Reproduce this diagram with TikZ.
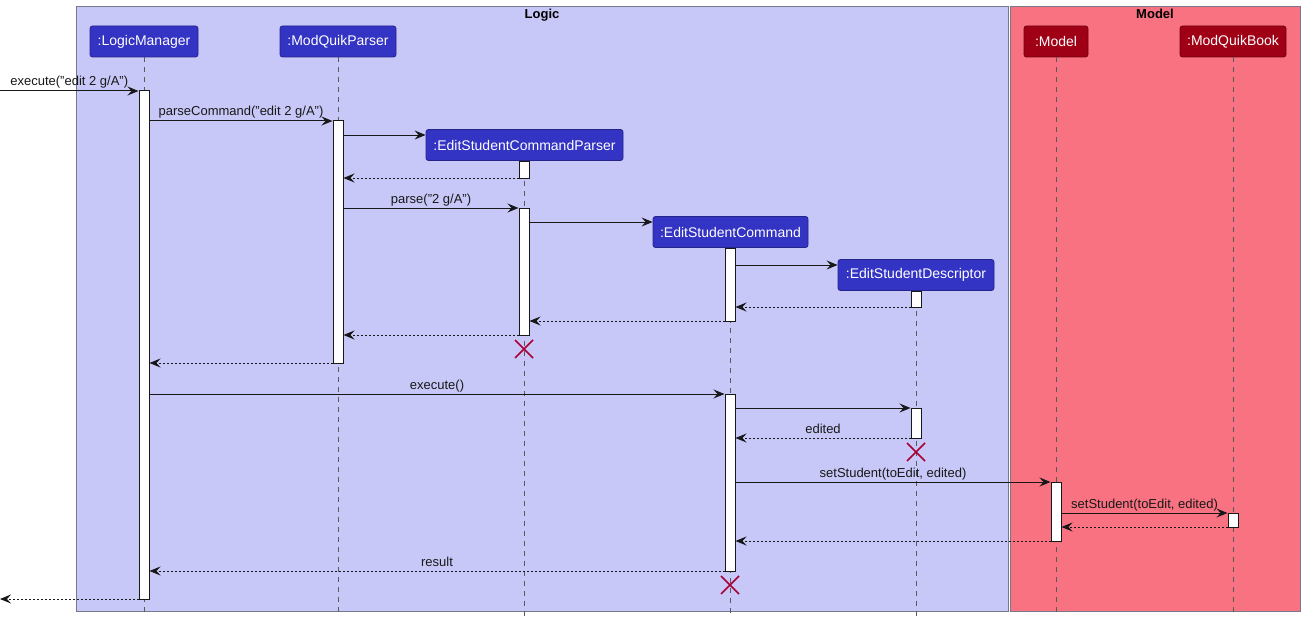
\documentclass[tikz,border=0pt]{standalone}
\usepackage{fontspec}
\setmainfont{Liberation Sans}
\usetikzlibrary{arrows.meta,calc}
\definecolor{logicbg}{RGB}{200,200,248}
\definecolor{modelbg}{RGB}{249,114,130}
\definecolor{logicpart}{RGB}{51,51,196}
\definecolor{modelpart}{RGB}{160,0,22}
\definecolor{boxline}{RGB}{120,120,140}
\definecolor{ink}{RGB}{24,24,24}
\definecolor{destroy}{RGB}{168,0,54}
\tikzset{
  grp/.style={draw=boxline, line width=1pt, inner sep=0},
  part/.style={rectangle, rounded corners=2.5pt, draw=#1!70!black, fill=#1, text=white, font=\fontsize{14}{16}\selectfont, inner sep=0, minimum height=31pt, line width=0.8pt},
  life/.style={draw=black!65, line width=0.9pt, dash pattern=on 5pt off 5pt},
  bar/.style={draw=ink, fill=white, minimum width=10pt, inner sep=0, line width=1pt},
  msg/.style={draw=ink, line width=1pt, -{Stealth[length=11pt,width=9pt,inset=4pt]}},
  ret/.style={msg, dash pattern=on 2pt off 2pt},
  lbl/.style={font=\fontsize{13}{15}\selectfont, inner sep=0, anchor=base, text=ink, yshift=5pt},
  ttl/.style={font=\bfseries\fontsize{13}{15}\selectfont, inner sep=0, anchor=base},
  killx/.style={draw=destroy, line width=1.6pt}
}
\newcommand{\actbar}[4]{\node[bar, minimum height={(#4-#3)*1pt}] (#1) at (#2,{(#3+#4)/2}) {};}
\newcommand{\killmark}[3]{\coordinate (#1) at (#2,#3);
  \draw[killx] ($(#1)+(-9,-9)$) -- ($(#1)+(9,9)$) ($(#1)+(-9,9)$) -- ($(#1)+(9,-9)$);}
\begin{document}
\begin{tikzpicture}[x=1pt,y=-1pt]
\useasboundingbox (0,0) rectangle (1305,623);
% groups
\node[grp, fill=logicbg, minimum width=932pt, minimum height=605pt, anchor=north west] (logic) at (76,6) {};
\node[grp, fill=modelbg, minimum width=290pt, minimum height=605pt, anchor=north west] (model) at (1010,6) {};
\node[ttl] (logicT) at (542,18.5) {Logic};
\node[ttl] (modelT) at (1155,18.5) {Model};
% participants
\node[part=logicpart, minimum width=108pt] (lm) at (144,41.5) {:LogicManager};
\node[part=logicpart, minimum width=116pt] (mp) at (338,41.5) {:ModQuikParser};
\node[part=logicpart, minimum width=197pt] (ecp) at (524.5,145) {:EditStudentCommandParser};
\node[part=logicpart, minimum width=155pt] (esc) at (730.5,232) {:EditStudentCommand};
\node[part=logicpart, minimum width=156pt] (esd) at (916,275) {:EditStudentDescriptor};
\node[part=modelpart, minimum width=64pt] (mo) at (1056,41.5) {:Model};
\node[part=modelpart, minimum width=106pt] (mb) at (1233,41.5) {:ModQuikBook};
% lifelines
\foreach \p in {lm,mp,ecp,esc,esd,mo,mb} \draw[life] (\p.south) -- (\p.south |- 0,616);
% activation bars
\actbar{aLM}{144}{91}{599}
\actbar{aMP}{338}{121}{363}
\actbar{aECP1}{524}{161}{178}
\actbar{aECP2}{524}{208}{335}
\actbar{aESC1}{730}{248}{321}
\actbar{aESC2}{730}{394}{571}
\actbar{aESD1}{916}{291}{307}
\actbar{aESD2}{916}{408}{438}
\actbar{aMO}{1056}{482}{541}
\actbar{aMB}{1233}{513}{527}
% destroy marks
\killmark{xECP}{524}{349}
\killmark{xESD}{916}{452}
\killmark{xESC}{730}{585}
% external endpoints
\coordinate (inL) at (0,91);
\coordinate (outL) at (0,599);
% messages
\draw[msg] (inL) -- (aLM.west |- inL) node[lbl, midway] {execute("edit 2 g/A")};
\draw[msg] (aLM.east |- 0,121) -- (aMP.west |- 0,121) node[lbl, midway] {parseCommand("edit 2 g/A")};
\draw[msg] (aMP.east |- 0,135) -- (ecp.west |- 0,135);
\draw[ret] (aECP1.west |- 0,178) -- (aMP.east |- 0,178);
\draw[msg] (aMP.east |- 0,208) -- (aECP2.west |- 0,208) node[lbl, midway] {parse("2 g/A")};
\draw[msg] (aECP2.east |- 0,222) -- (esc.west |- 0,222);
\draw[msg] (aESC1.east |- 0,265) -- (esd.west |- 0,265);
\draw[ret] (aESD1.west |- 0,307) -- (aESC1.east |- 0,307);
\draw[ret] (aESC1.west |- 0,321) -- (aECP2.east |- 0,321);
\draw[ret] (aECP2.west |- 0,335) -- (aMP.east |- 0,335);
\draw[ret] (aMP.west |- 0,363) -- (aLM.east |- 0,363);
\draw[msg] (aLM.east |- 0,394) -- (aESC2.west |- 0,394) node[lbl, midway] {execute()};
\draw[msg] (aESC2.east |- 0,408) -- (aESD2.west |- 0,408);
\draw[ret] (aESD2.west |- 0,438) -- (aESC2.east |- 0,438) node[lbl, midway] {edited};
\draw[msg] (aESC2.east |- 0,482) -- (aMO.west |- 0,482) node[lbl, midway] {setStudent(toEdit, edited)};
\draw[msg] (aMO.east |- 0,513) -- (aMB.west |- 0,513) node[lbl, midway] {setStudent(toEdit, edited)};
\draw[ret] (aMB.west |- 0,527) -- (aMO.east |- 0,527);
\draw[ret] (aMO.west |- 0,541) -- (aESC2.east |- 0,541);
\draw[ret] (aESC2.west |- 0,571) -- (aLM.east |- 0,571) node[lbl, midway] {result};
\draw[ret] (aLM.west |- outL) -- (outL);
\end{tikzpicture}
\end{document}
